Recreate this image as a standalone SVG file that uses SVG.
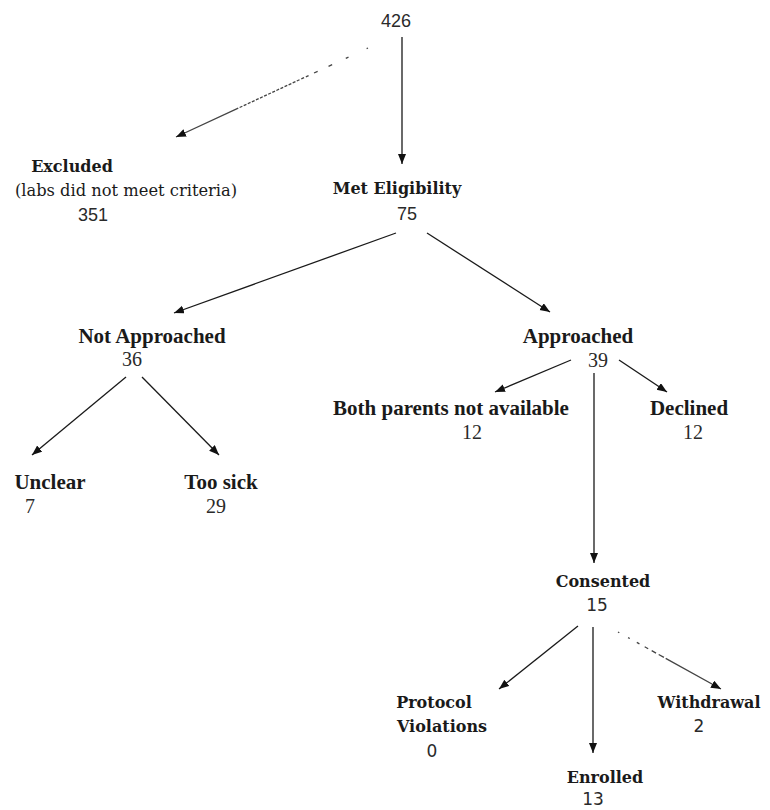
<svg xmlns="http://www.w3.org/2000/svg" width="770" height="810" viewBox="0 0 770 810">
<defs>
<marker id="ah" markerUnits="userSpaceOnUse" markerWidth="11" markerHeight="9" refX="10" refY="4" orient="auto">
<path d="M0,0 L10,4 L0,8 z" fill="#111"/>
</marker>
<style>
.a{font-family:"DejaVu Serif",serif;font-weight:bold;font-size:16px;fill:#1a1a1a;text-anchor:middle}
.ar{font-family:"DejaVu Serif",serif;font-size:16.3px;fill:#1a1a1a;text-anchor:middle}
.b{font-family:"Liberation Serif","Times New Roman",serif;font-weight:bold;font-size:21px;fill:#1a1a1a;text-anchor:middle}
.bn{font-family:"Liberation Serif","Times New Roman",serif;font-size:20px;fill:#2a2a2a;text-anchor:middle}
.n{font-family:"Liberation Sans",Arial,sans-serif;font-size:18px;fill:#2a2a2a;text-anchor:middle}
.d{font-family:"DejaVu Sans",sans-serif;font-size:17px;fill:#2a2a2a;text-anchor:middle}
.c{stroke:#1a1a1a;stroke-width:1.3;fill:none;marker-end:url(#ah)}
.dt{stroke:#444;stroke-width:1.3;fill:none;marker-end:url(#ah)}
</style>
</defs>
<rect width="770" height="810" fill="#fff"/>
<g id="connectors">
<path class="dt" d="M368,48 L176,137" stroke-dasharray="1.5,20,3,15,4,12,4,6,3,2,3,2,3,1.5,3,1.5,3,1.5,3,1.5,3,1.5,3,1.5,3,1.5,3,1.5,3,1.5,3,1.5,3,1.5,3,1.5,3,1.5,3,1.5,3,1.5,200"/>
<path class="c" d="M402,37 L402,164"/>
<path class="c" d="M396,233 L174,313"/>
<path class="c" d="M427,233 L550,312"/>
<path class="c" d="M126,377 L32,455"/>
<path class="c" d="M142,377 L219,455"/>
<path class="c" d="M571,360 L495,392"/>
<path class="c" d="M619,360 L667,392"/>
<path class="c" d="M594,373 L594,563"/>
<path class="c" d="M578,626 L499,689"/>
<path class="c" d="M593,627 L593,753"/>
<path class="dt" d="M618,632 L721,689" stroke-dasharray="1.5,10,2,8,3,6,4,4,5,3,6,2,200"/>
</g>
<g id="n426"><text class="n" x="396" y="27" font-size="19">426</text></g>
<g id="excluded">
<text class="a" x="72" y="172">Excluded</text>
<text class="ar" x="126" y="196">(labs did not meet criteria)</text>
<text class="n" x="93" y="221">351</text>
</g>
<g id="met">
<text class="a" x="397" y="194">Met Eligibility</text>
<text class="n" x="407" y="220">75</text>
</g>
<g id="notapproached">
<text class="b" x="152" y="343">Not Approached</text>
<text class="bn" x="132" y="366">36</text>
</g>
<g id="approached">
<text class="b" x="578" y="343">Approached</text>
<text class="bn" x="598" y="367">39</text>
</g>
<g id="unclear">
<text class="b" x="50" y="489">Unclear</text>
<text class="bn" x="30" y="513">7</text>
</g>
<g id="toosick">
<text class="b" x="221" y="489">Too sick</text>
<text class="bn" x="216" y="513">29</text>
</g>
<g id="bothparents">
<text class="b" x="451" y="415">Both parents not available</text>
<text class="bn" x="472" y="439">12</text>
</g>
<g id="declined">
<text class="b" x="689" y="415">Declined</text>
<text class="bn" x="693" y="439">12</text>
</g>
<g id="consented">
<text class="a" x="603" y="587">Consented</text>
<text class="d" x="597" y="611">15</text>
</g>
<g id="protocol">
<text class="a" x="434" y="708">Protocol</text>
<text class="a" x="442" y="732">Violations</text>
<text class="d" x="432" y="757">0</text>
</g>
<g id="withdrawal">
<text class="a" x="709" y="708">Withdrawal</text>
<text class="d" x="699" y="732">2</text>
</g>
<g id="enrolled">
<text class="a" x="605" y="783">Enrolled</text>
<text class="d" x="593" y="805">13</text>
</g>
</svg>
